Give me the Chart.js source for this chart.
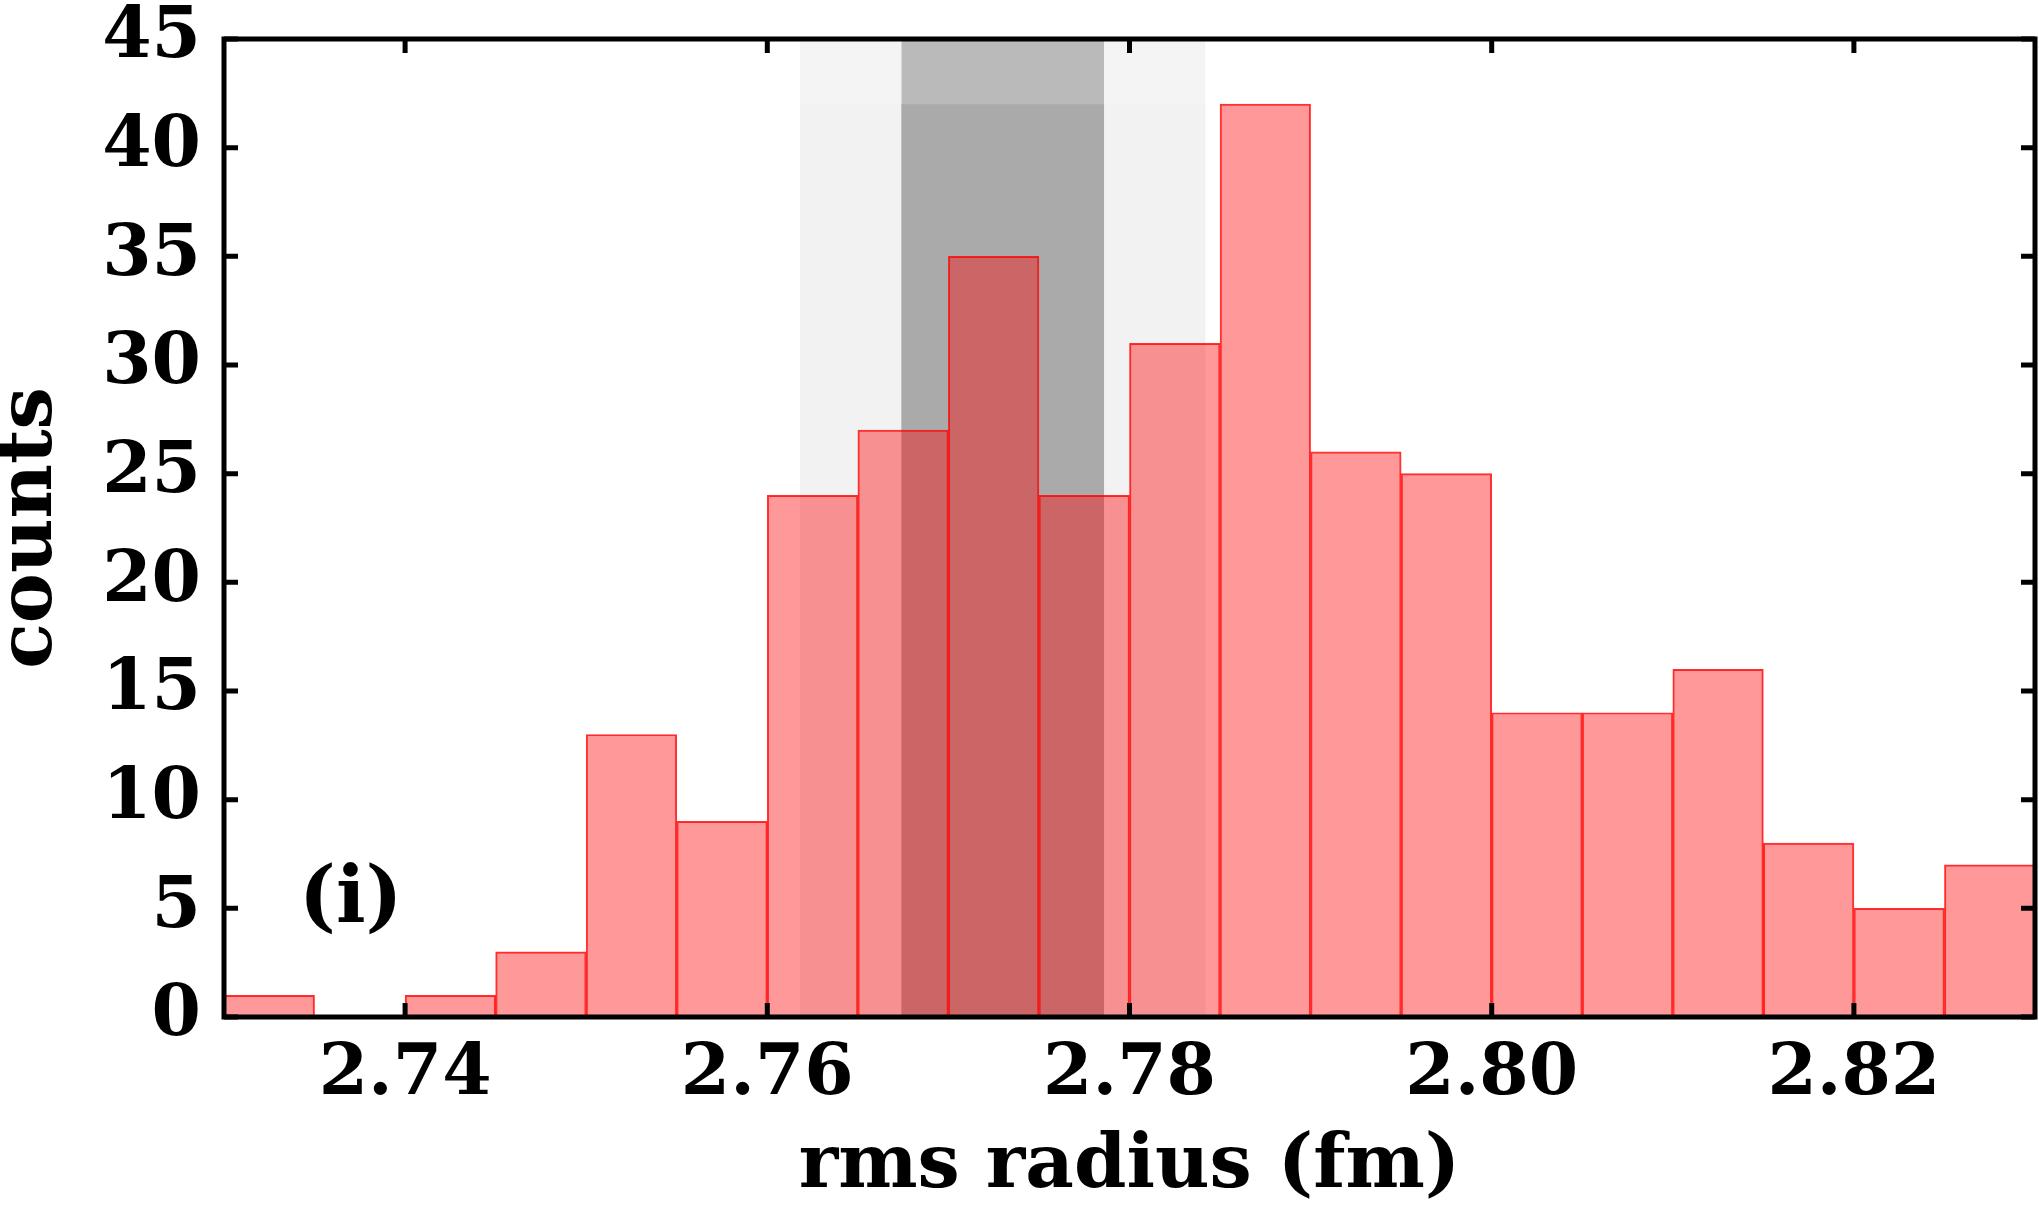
<!DOCTYPE html>
<html>
<head>
<meta charset="utf-8">
<script src="https://cdn.jsdelivr.net/npm/chart.js@4"></script>
<style>
  html, body { margin: 0; padding: 0; background: #fff; }
  #wrap { width: 2039px; height: 1209px; }
</style>
</head>
<body>
<div id="wrap"><canvas id="chart" width="2039" height="1209"></canvas></div>
<script>
// histogram bins (centres) and counts
const binCenters = [2.7325, 2.7375, 2.7425, 2.7475, 2.7525, 2.7575, 2.7625, 2.7675, 2.7725, 2.7775,
                    2.7825, 2.7875, 2.7925, 2.7975, 2.8025, 2.8075, 2.8125, 2.8175, 2.8225, 2.8275];
const counts = [1, 0, 1, 3, 13, 9, 24, 27, 35, 24, 31, 42, 26, 25, 14, 14, 16, 8, 5, 7];

// shaded bands (x limits)
const outerBand = [2.7618, 2.7842];
const innerBand = [2.7674, 2.7786];
const bandTop = 45;
const bandMid = 42;

const xTicks = [2.74, 2.76, 2.78, 2.80, 2.82];
const yTicks = [0, 5, 10, 15, 20, 25, 30, 35, 40, 45];

const FONT = 'DejaVu Serif';

function band(limits, top, color, order) {
  return {
    type: 'line',
    data: [{ x: limits[0], y: top }, { x: limits[1], y: top }],
    backgroundColor: color,
    borderWidth: 0,
    pointRadius: 0,
    fill: 'origin',
    order: order
  };
}

// frame + inward ticks + panel label
const framePlugin = {
  id: 'frame',
  afterDraw(chart) {
    const { ctx, chartArea: a, scales: { x, y } } = chart;
    ctx.save();
    ctx.strokeStyle = '#000';
    ctx.lineWidth = 5;
    ctx.strokeRect(a.left, a.top, a.right - a.left, a.bottom - a.top);
    const len = 14;
    ctx.beginPath();
    xTicks.forEach(v => {
      const px = x.getPixelForValue(v);
      ctx.moveTo(px, a.bottom); ctx.lineTo(px, a.bottom - len);
      ctx.moveTo(px, a.top); ctx.lineTo(px, a.top + len);
    });
    yTicks.forEach(v => {
      const py = y.getPixelForValue(v);
      ctx.moveTo(a.left, py); ctx.lineTo(a.left + len, py);
      ctx.moveTo(a.right, py); ctx.lineTo(a.right - len, py);
    });
    ctx.stroke();

    ctx.fillStyle = '#000';
    ctx.font = 'bold 78px "' + FONT + '"';
    ctx.textAlign = 'center';
    ctx.textBaseline = 'middle';
    ctx.fillText('(i)', x.getPixelForValue(2.737), y.getPixelForValue(5.3));
    ctx.restore();
  }
};

new Chart(document.getElementById('chart'), {
  type: 'bar',
  data: {
    datasets: [
      {
        type: 'bar',
        data: binCenters.map((c, i) => ({ x: c, y: counts[i] })),
        backgroundColor: 'rgba(255, 0, 0, 0.4)',
        borderColor: 'rgba(255, 0, 0, 0.8)',
        borderWidth: 1.3,
        borderSkipped: false,
        barPercentage: 1,
        categoryPercentage: 1,
        order: 0
      },
      band(innerBand, bandMid, '#aaaaaa', 1),
      band(innerBand, bandTop, '#bababa', 2),
      band(outerBand, bandMid, '#f2f2f2', 3),
      band(outerBand, bandTop, '#f4f4f4', 4)
    ]
  },
  options: {
    responsive: false,
    animation: false,
    layout: { padding: { top: 39, right: 4, left: 0, bottom: 0 } },
    plugins: {
      legend: { display: false },
      tooltip: { enabled: false },
      filler: { drawTime: 'beforeDatasetsDraw' }
    },
    scales: {
      x: {
        type: 'linear',
        offset: false,
        min: 2.73,
        max: 2.83,
        afterBuildTicks: s => { s.ticks = xTicks.map(v => ({ value: v })); },
        afterFit: s => { s.height = 192; s.paddingLeft = 0; s.paddingRight = 0; },
        grid: { display: false, drawTicks: false },
        border: { display: false },
        ticks: {
          color: '#000',
          padding: 16,
          maxRotation: 0,
          font: { family: FONT, weight: 'bold', size: 71 },
          callback: v => v.toFixed(2)
        },
        title: {
          display: true,
          text: 'rms radius (fm)',
          color: '#000',
          font: { family: FONT, weight: 'bold', size: 75, lineHeight: 1 },
          padding: { top: 0, bottom: 4 }
        }
      },
      y: {
        min: 0,
        max: 45,
        afterFit: s => { s.width = 224; s.paddingTop = 0; s.paddingBottom = 0; },
        grid: { display: false, drawTicks: false },
        border: { display: false },
        ticks: {
          stepSize: 5,
          color: '#000',
          padding: 23,
          font: { family: FONT, weight: 'bold', size: 71 }
        },
        title: {
          display: true,
          text: 'counts',
          color: '#000',
          font: { family: FONT, weight: 'bold', size: 75, lineHeight: 0.85 },
          padding: { top: 0, bottom: 0 }
        }
      }
    }
  },
  plugins: [framePlugin]
});
</script>
</body>
</html>
